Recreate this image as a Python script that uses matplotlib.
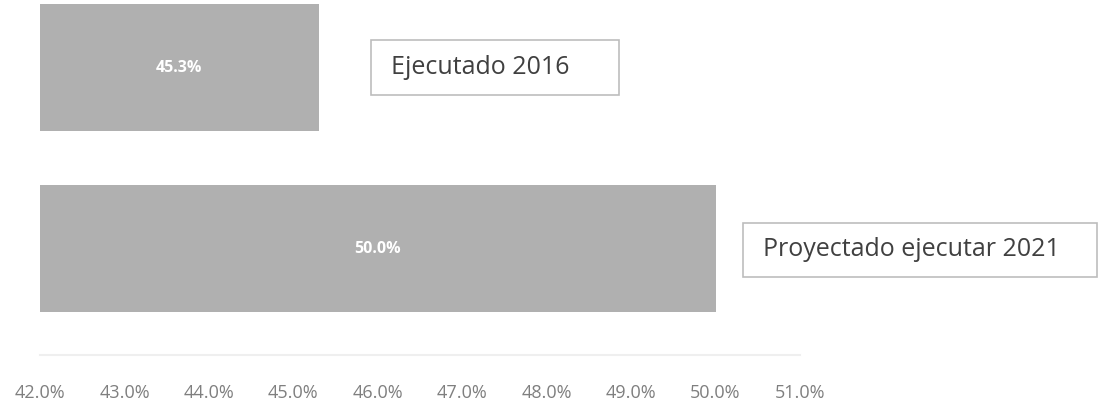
import matplotlib.pyplot as plt
from matplotlib.patches import Rectangle

categories = ['Proyectado ejecutar 2021', 'Ejecutado 2016']
values = [50.0, 45.3]
ticks = [42, 43, 44, 45, 46, 47, 48, 49, 50, 51]
tick_labels = [f'{t:.1f}%' for t in ticks]

W, H = 1101, 405
fig = plt.figure(figsize=(W / 100, H / 100), dpi=100)
ax = fig.add_axes([40 / W, (H - 355) / H, 760 / W, 355 / H])

y = list(range(len(categories)))
ax.barh(y, [v - 42 for v in values], left=42, height=0.7, color='#b0b0b0')
for yi, v in zip(y, values):
    ax.text(42 + (v - 42) / 2, yi, f'{v:.1f}%', color='white', fontweight='bold',
            fontsize=11.5, ha='center', va='center', family='Open Sans')

ax.set_xlim(42, 51)
ax.set_ylim(-0.588, 1.373)
ax.set_xticks(ticks)
ax.set_xticklabels(tick_labels, fontsize=13, color='#7f7f7f', family='Open Sans')
ax.tick_params(axis='x', length=0, pad=21)
ax.set_yticks([])
for s in ['top', 'right', 'left']:
    ax.spines[s].set_visible(False)
ax.spines['bottom'].set_color('#efefef')
ax.spines['bottom'].set_linewidth(1.5)

# legend-like text boxes
boxes = [(371, 40, 248, 55), (743, 223, 354, 54)]
for (bx, by, bw, bh), label in zip(boxes, [categories[1], categories[0]]):
    fig.add_artist(Rectangle((bx / W, (H - by - bh) / H), bw / W, bh / H,
                             transform=fig.transFigure, facecolor='white',
                             edgecolor='#bdbdbd', linewidth=1.2))
    fig.text((bx + 20) / W, (H - by - bh / 2) / H, label, fontsize=18,
             color='#404040', va='center', ha='left', family='Open Sans')

fig.savefig('out.png', dpi=100)
